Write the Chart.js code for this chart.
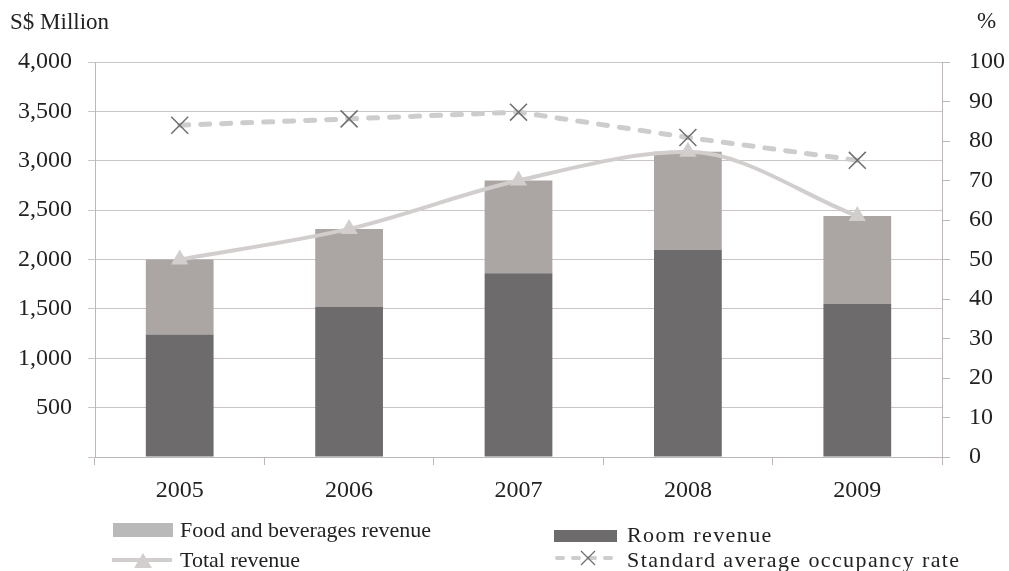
<!DOCTYPE html>
<html>
<head>
<meta charset="utf-8">
<script src="https://cdn.jsdelivr.net/npm/chart.js@4.4.1/dist/chart.umd.min.js"></script>
<style>
  html, body { margin: 0; padding: 0; background: #fff; }
  #wrap { width: 1009px; height: 571px; position: relative; }
</style>
</head>
<body>
<div id="wrap"><canvas id="hotelChart"></canvas></div>
<script>
// Hotel revenue 2005-2009
const years = ['2005', '2006', '2007', '2008', '2009'];
const roomRevenue = [1240, 1520, 1860, 2100, 1550];
const fnbRevenue = [760, 790, 940, 990, 890];
const totalRevenue = [2000, 2310, 2800, 3090, 2440];
const occupancyRate = [84.0, 85.6, 87.3, 80.9, 75.1];

const FONT = '"Liberation Serif", "Times New Roman", serif';
const TEXT = '#222';
const AXIS = '#bdb7b7';

const colors = {
  room: '#6d6b6c',
  fnb: '#aba6a4',
  fnbKey: '#b9b9b9',
  total: '#d2cecd',
  occ: '#cdcdcd',
  cross: '#6f6f6f'
};

// titles over the axes and the two-column key underneath
const extras = {
  id: 'extras',
  afterDraw(chart) {
    const ctx = chart.ctx;
    ctx.save();
    ctx.fillStyle = TEXT;
    ctx.font = '23px ' + FONT;
    ctx.textBaseline = 'alphabetic';
    ctx.textAlign = 'left';
    ctx.fillText('S$ Million', 10, 29);
    ctx.fillText('%', 977, 28);

    ctx.font = '22px ' + FONT;

    // Food and beverages
    ctx.fillStyle = colors.fnbKey;
    ctx.fillRect(113, 523, 60, 14);
    ctx.fillStyle = TEXT;
    ctx.fillText('Food and beverages revenue', 180, 537);

    // Total revenue
    ctx.strokeStyle = colors.total;
    ctx.lineWidth = 4;
    ctx.beginPath();
    ctx.moveTo(112, 560);
    ctx.lineTo(172, 560);
    ctx.stroke();
    ctx.fillStyle = colors.total;
    ctx.beginPath();
    ctx.moveTo(143, 553);
    ctx.lineTo(152, 568);
    ctx.lineTo(134, 568);
    ctx.closePath();
    ctx.fill();
    ctx.fillStyle = TEXT;
    ctx.fillText('Total revenue', 180, 567);

    // right column is set a little wider
    ctx.letterSpacing = '1.4px';

    // Room revenue
    ctx.fillStyle = colors.room;
    ctx.fillRect(554, 530, 63, 12);
    ctx.fillStyle = TEXT;
    ctx.fillText('Room revenue', 627, 542);

    // Occupancy
    ctx.strokeStyle = colors.occ;
    ctx.lineWidth = 4;
    ctx.lineCap = 'round';
    ctx.setLineDash([6, 10]);
    ctx.beginPath();
    ctx.moveTo(557, 558);
    ctx.lineTo(615, 558);
    ctx.stroke();
    ctx.setLineDash([]);
    ctx.lineCap = 'butt';
    ctx.strokeStyle = colors.cross;
    ctx.lineWidth = 1.3;
    ctx.beginPath();
    ctx.moveTo(581, 551); ctx.lineTo(595, 565);
    ctx.moveTo(595, 551); ctx.lineTo(581, 565);
    ctx.stroke();
    ctx.fillStyle = TEXT;
    ctx.fillText('Standard average occupancy rate', 627, 567);
    ctx.restore();
  }
};

new Chart(document.getElementById('hotelChart'), {
  data: {
    labels: years,
    datasets: [
      {
        type: 'bar',
        label: 'Room revenue',
        data: roomRevenue,
        backgroundColor: colors.room,
        yAxisID: 'y',
        stack: 'rev',
        order: 2,
        barPercentage: 0.4,
        categoryPercentage: 1
      },
      {
        type: 'bar',
        label: 'Food and beverages revenue',
        data: fnbRevenue,
        backgroundColor: colors.fnb,
        yAxisID: 'y',
        stack: 'rev',
        order: 2,
        barPercentage: 0.4,
        categoryPercentage: 1
      },
      {
        type: 'line',
        label: 'Total revenue',
        data: totalRevenue,
        yAxisID: 'y',
        borderColor: colors.total,
        borderWidth: 4,
        cubicInterpolationMode: 'monotone',
        pointStyle: 'triangle',
        pointRadius: 10,
        pointBackgroundColor: colors.total,
        pointBorderColor: colors.total,
        pointBorderWidth: 0,
        order: 1
      },
      {
        type: 'line',
        label: 'Standard average occupancy rate',
        data: occupancyRate,
        yAxisID: 'y1',
        borderColor: colors.occ,
        borderWidth: 5,
        borderDash: [9, 12],
        borderCapStyle: 'round',
        tension: 0,
        pointStyle: 'crossRot',
        pointRadius: 12,
        pointBorderColor: colors.cross,
        pointBorderWidth: 1.5,
        order: 0
      }
    ]
  },
  options: {
    responsive: true,
    maintainAspectRatio: false,
    animation: false,
    layout: { padding: { top: 62, left: 0, right: 0, bottom: 0 } },
    plugins: {
      legend: { display: false },
      tooltip: { enabled: false }
    },
    scales: {
      x: {
        stacked: true,
        afterFit: s => { s.height = 114; },
        grid: {
          offset: true,
          drawOnChartArea: false,
          drawTicks: true,
          tickLength: 8,
          color: AXIS
        },
        border: { display: true, color: AXIS },
        ticks: {
          color: TEXT,
          font: { family: FONT, size: 24 },
          padding: 11
        }
      },
      y: {
        position: 'left',
        stacked: true,
        min: 0,
        max: 4000,
        afterFit: s => { s.width = 95; },
        grid: { color: '#cbc6c6', lineWidth: 1, tickLength: 7 },
        border: { display: true, color: AXIS },
        ticks: {
          stepSize: 500,
          color: TEXT,
          font: { family: FONT, size: 24 },
          padding: 16,
          callback: v => v === 0 ? '' : v.toLocaleString('en-US')
        }
      },
      y1: {
        position: 'right',
        min: 0,
        max: 100,
        afterFit: s => { s.width = 67; },
        grid: { drawOnChartArea: false, tickLength: 8, color: AXIS },
        border: { display: true, color: AXIS },
        ticks: {
          stepSize: 10,
          color: TEXT,
          font: { family: FONT, size: 24 },
          padding: 19
        }
      }
    }
  },
  plugins: [extras]
});
</script>
</body>
</html>
